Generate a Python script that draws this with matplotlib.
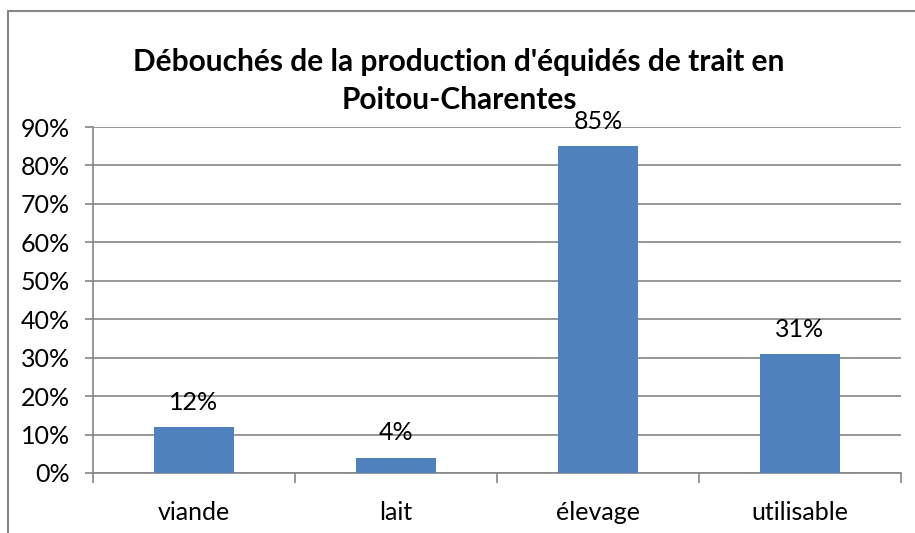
import matplotlib
matplotlib.use("Agg")
import matplotlib.pyplot as plt
from matplotlib.patches import Rectangle
from matplotlib.ticker import FixedLocator

categories = ["viande", "lait", "élevage", "utilisable"]
values = [0.12, 0.04, 0.85, 0.31]
value_labels = ["12%", "4%", "85%", "31%"]
yticks = [0.0, 0.1, 0.2, 0.3, 0.4, 0.5, 0.6, 0.7, 0.8, 0.9]
ytick_labels = ["0%", "10%", "20%", "30%", "40%", "50%", "60%", "70%", "80%", "90%"]
title = "Débouchés de la production d'équidés de trait en\nPoitou-Charentes"

plt.rcParams['font.family'] = ['Lato', 'DejaVu Sans']

W, H = 915, 533
fig = plt.figure(figsize=(W / 100, H / 100), dpi=100)

grey = "#868686"
# outer chart border
fig.patches.append(Rectangle((8 / W, -0.1), 1.2, (H - 11) / H + 0.1,
                             transform=fig.transFigure, fill=False,
                             edgecolor=grey, linewidth=1.5))

ax = fig.add_axes([93 / W, (H - 473) / H, (901 - 93) / W, (473 - 127) / H])
x = list(range(len(categories)))
ax.bar(x, values, width=0.4, color="#4F81BD", zorder=3)
ax.set_xlim(-0.5, len(categories) - 0.5)
ax.set_ylim(0, 0.9)

ax.set_yticks(yticks)
ax.set_yticklabels(ytick_labels, fontsize=18)
ax.yaxis.grid(True, color=grey, linewidth=1.2, zorder=0)
ax.tick_params(axis='y', length=5.8, width=1.2, color=grey, pad=11)

ax.set_xticks(x)
ax.set_xticklabels(categories, fontsize=18)
ax.tick_params(axis='x', which='major', length=0, pad=20)
ax.xaxis.set_minor_locator(FixedLocator([i - 0.5 for i in range(len(categories) + 1)]))
ax.tick_params(axis='x', which='minor', length=7, width=1.2, color=grey)

for s in ['top', 'right']:
    ax.spines[s].set_visible(False)
for s in ['left', 'bottom']:
    ax.spines[s].set_color(grey)
    ax.spines[s].set_linewidth(1.2)

for xi, v, lab in zip(x, values, value_labels):
    ax.annotate(lab, (xi, v), xytext=(0, 9.5), textcoords='offset points',
                ha='center', va='bottom', fontsize=18)

fig.text(459 / W, 1 - 81 / H, title, ha='center', va='center',
         fontsize=21.5, fontweight='bold', linespacing=1.4)

fig.savefig("out.png", dpi=100)
